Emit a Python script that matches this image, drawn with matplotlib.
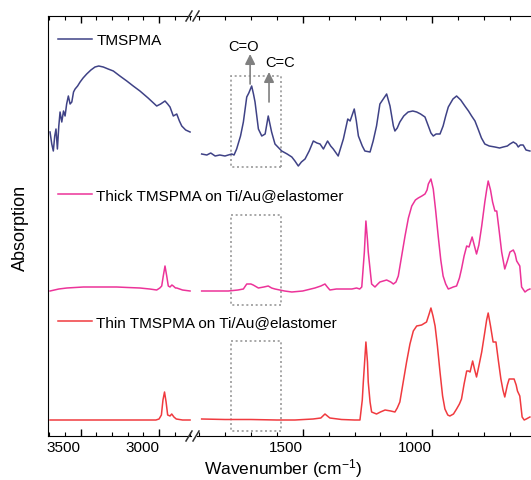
"""FTIR spectra of TMSPMA with a broken wavenumber axis."""

import matplotlib
matplotlib.use('Agg')
import matplotlib.pyplot as plt
from matplotlib.lines import Line2D
from matplotlib.patches import Rectangle
import numpy as np

plt.rcParams['font.family'] = ['Liberation Sans', 'DejaVu Sans']
plt.rcParams['mathtext.fontset'] = 'custom'
plt.rcParams['mathtext.rm'] = 'Liberation Sans'
plt.rcParams['mathtext.default'] = 'regular'

# --- data (wavenumber in cm-1, absorption in arbitrary units) -------------
tmspma_hi_wn = [3696, 3685, 3675, 3666, 3658, 3649, 3640, 3632, 3621, 3610,
                3600, 3590, 3579, 3568, 3557, 3546, 3536, 3520, 3504, 3485,
                3462, 3435, 3409, 3385, 3356, 3325, 3292, 3250, 3206, 3165,
                3122, 3070, 3015, 2990, 2962, 2945, 2930, 2909, 2887, 2870,
                2855, 2830, 2802]
tmspma_hi_ab = [24, 12, 5, 20, 27, 7, 30, 44, 34, 45,
                40, 52, 60, 52, 54, 64, 67, 70, 74, 78,
                82, 86, 89, 90, 89, 87, 85, 80, 75, 70,
                65, 58, 50, 52, 55, 52, 49, 40, 42, 35,
                30, 26, 24]
tmspma_lo_wn = [1890, 1870, 1855, 1838, 1820, 1800, 1774, 1765, 1755, 1740,
                1729, 1716, 1708, 1697, 1690, 1684, 1671, 1658, 1645, 1633,
                1620, 1607, 1581, 1560, 1542, 1530, 1517, 1505, 1491, 1475,
                1459, 1445, 1433, 1420, 1404, 1392, 1382, 1363, 1343, 1326,
                1317, 1301, 1293, 1285, 1270, 1260, 1240, 1228, 1215, 1202,
                1189, 1176, 1163, 1150, 1144, 1135, 1125, 1110, 1093, 1075,
                1060, 1045, 1028, 1015, 1005, 996, 985, 970, 958, 948,
                938, 920, 906, 890, 874, 860, 848, 835, 823, 810,
                797, 780, 758, 740, 726, 710, 700, 687, 675, 668,
                660, 649, 638, 623]
tmspma_lo_ab = [2, 1, 3, 0, 1, 0, 2, 1, 7, 20,
                34, 59, 63, 70, 62, 54, 27, 20, 22, 40,
                24, 12, 5, 2, -1, -5, -10, -6, -3, 5,
                15, 13, 12, 7, 15, 10, 7, 0, 17, 37,
                35, 47, 35, 20, 10, 5, 4, 15, 30, 52,
                57, 62, 50, 30, 25, 28, 34, 40, 44, 45,
                44, 42, 39, 30, 23, 20, 22, 22, 30, 40,
                49, 57, 60, 56, 50, 45, 40, 35, 27, 18,
                12, 10, 9, 8, 9, 10, 12, 14, 12, 9,
                11, 11, 6, 5]

thick_hi_wn = [3696, 3640, 3589, 3483, 3380, 3270, 3200, 3122, 3060, 3015,
               2995, 2983, 2973, 2962, 2951, 2941, 2930, 2918, 2909, 2895,
               2887, 2850, 2802]
thick_hi_ab = [-1, 1, 2, 3, 3, 3, 2.5, 2, 1, 0,
               2, 4, 14, 24, 14, 4, 3, 5, 4, 2,
               2, 0, -1]
thick_lo_wn = [1890, 1850, 1787, 1750, 1729, 1716, 1700, 1691, 1671, 1650,
               1633, 1620, 1607, 1570, 1542, 1500, 1453, 1430, 1414, 1405,
               1395, 1370, 1337, 1310, 1292, 1280, 1272, 1262, 1256, 1250,
               1247, 1234, 1221, 1210, 1202, 1176, 1160, 1150, 1140, 1131,
               1118, 1105, 1092, 1079, 1065, 1054, 1040, 1028, 1020, 1015,
               1005, 996, 987, 977, 967, 958, 948, 938, 928, 919,
               906, 895, 887, 877, 867, 858, 846, 838, 829, 820,
               809, 797, 790, 784, 775, 767, 758, 751, 742, 732,
               720, 710, 700, 687, 680, 674, 662, 655, 642, 632,
               623]
thick_lo_ab = [-1, -1, -1, 0, 1, 6, 6, 5, 2, 3,
               4, 2, 1, -1, -2, -1, 2, 4, 6, 3,
               0, 1, 1, 1, 2, 1, 3, 38, 69, 50,
               38, 6, 3, 6, 8, 10, 8, 6, 8, 14,
               34, 54, 72, 84, 90, 92, 94, 96, 100, 106,
               111, 101, 80, 54, 30, 14, 6, 1, 2, 3,
               4, 12, 21, 34, 44, 43, 53, 45, 36, 45,
               64, 88, 100, 109, 100, 88, 79, 79, 60, 38,
               21, 29, 38, 40, 36, 29, 24, 3, -2, 0,
               1]

thin_hi_wn = [3696, 3500, 3200, 3020, 3000, 2985, 2975, 2965, 2955, 2945,
              2930, 2919, 2905, 2890, 2850, 2802]
thin_hi_ab = [0, 0, 0, 0, 1, 5, 20, 28, 18, 5,
              4, 6, 3, 1, 0, 0]
thin_lo_wn = [1890, 1800, 1700, 1600, 1530, 1460, 1430, 1414, 1400, 1395,
              1350, 1300, 1279, 1270, 1266, 1256, 1250, 1247, 1240, 1234,
              1215, 1200, 1182, 1160, 1144, 1135, 1125, 1112, 1099, 1086,
              1073, 1060, 1041, 1022, 1012, 1005, 997, 989, 980, 970,
              960, 951, 940, 932, 918, 906, 895, 887, 877, 867,
              860, 854, 844, 836, 829, 820, 809, 797, 790, 784,
              775, 765, 754, 745, 735, 727, 720, 710, 703, 690,
              684, 676, 671, 662, 653, 645, 637, 623]
thin_lo_ab = [1, 0.5, 0.5, 0, 0, 1, 2, 6, 3, 2,
              0.5, 0, 0, 20, 38, 78, 58, 38, 18, 8,
              6, 8, 10, 9, 8, 12, 18, 38, 58, 76,
              89, 94, 95, 98, 106, 112, 104, 94, 74, 48,
              24, 11, 5, 4, 6, 11, 16, 21, 36, 49,
              49, 48, 59, 50, 43, 54, 68, 88, 100, 107,
              94, 78, 78, 60, 41, 30, 23, 35, 41, 41,
              41, 35, 29, 24, 3, 0, 1, 3]

labels = ['TMSPMA', 'Thick TMSPMA on Ti/Au@elastomer',
          'Thin TMSPMA on Ti/Au@elastomer']
colors = ['#3f4286', '#ec3399', '#f03a3f']
offsets = [280, 146, 16]

# dotted boxes marking the C=O / C=C region (wavenumber span, y span)
box_wn = (1775, 1585)
box_y = [(269, 360), (131, 221), (5, 95)]

# --- layout (pixels of the 531x481 figure) --------------------------------
W, H = 531, 481
fig = plt.figure(figsize=(W / 100, H / 100), dpi=100)


def _rect(x0, x1, y_top, y_bot):
    return [x0 / W, 1 - y_bot / H, (x1 - x0) / W, (y_bot - y_top) / H]


ax_l = fig.add_axes(_rect(48, 191, 17, 437))
ax_r = fig.add_axes(_rect(197, 540, 17, 437))

spectra = [
    (tmspma_hi_wn, tmspma_hi_ab, tmspma_lo_wn, tmspma_lo_ab),
    (thick_hi_wn, thick_hi_ab, thick_lo_wn, thick_lo_ab),
    (thin_hi_wn, thin_hi_ab, thin_lo_wn, thin_lo_ab),
]
handles = []
for (hw, ha, lw, la), col, off in zip(spectra, colors, offsets):
    ax_l.plot(hw, np.array(ha) + off, color=col, lw=1.1)
    h, = ax_r.plot(lw, np.array(la) + off, color=col, lw=1.1)
    handles.append(h)

for y0, y1 in box_y:
    ax_r.add_patch(Rectangle((box_wn[1], y0), box_wn[0] - box_wn[1], y1 - y0,
                             fill=False, ec='#9a9a9a', ls=(0, (1.2, 1.6)),
                             lw=1.2))

# peak annotations
arrow = dict(arrowstyle='-|>,head_length=0.6,head_width=0.3',
             color='#808080', lw=1.2, shrinkA=0, shrinkB=0)
ax_r.annotate('', xy=(1703, 382), xytext=(1703, 352), arrowprops=arrow)
ax_r.annotate('', xy=(1630, 364), xytext=(1630, 334), arrowprops=arrow)
ax_r.text(1730, 390, 'C=O', ha='center', va='center', fontsize=10.5)
ax_r.text(1588, 374, 'C=C', ha='center', va='center', fontsize=10.5)

# axes styling
ax_l.set_xlim(3709, 2796)
ax_r.set_xlim(1908, 584)
for ax in (ax_l, ax_r):
    ax.set_ylim(0, 420)
    ax.set_yticks([])
    ax.spines['right'].set_visible(False)
    ax.tick_params(axis='x', which='both', direction='in', top=True,
                   bottom=True, labelsize=11, pad=3)
    ax.tick_params(axis='x', which='major', length=5, width=1)
    ax.tick_params(axis='x', which='minor', length=3, width=0.8)
    ax.patch.set_alpha(0)
ax_r.spines['left'].set_visible(False)

ax_l.set_xticks([3500, 3000])
ax_l.set_xticks(np.arange(3700, 2799, -100), minor=True)
ax_r.set_xticks([1500, 1000])
ax_r.set_xticks(np.arange(1900, 599, -100), minor=True)
for ax in (ax_l, ax_r):
    for lab in ax.get_xticklabels():
        lab.set_horizontalalignment('right')

# break marks on top and bottom spines
for yy in (17, 437):
    for xx in (189, 196):
        fig.add_artist(Line2D([(xx - 3) / W, (xx + 3) / W],
                              [1 - (yy + 5) / H, 1 - (yy - 5) / H],
                              color='#333333', lw=1.1))

fig.text(20 / W, 1 - 228 / H, 'Absorption', rotation=90, ha='center',
         va='center', fontsize=13)
fig.text(283 / W, 1 - 469 / H, 'Wavenumber (cm$^{-1}$)', ha='center',
         va='center', fontsize=12.5)

# one legend entry above each spectrum
legend_pos = [(58, 34), (58, 189), (58, 316)]
for h, lab, (lx, ly) in zip(handles, labels, legend_pos):
    fig.legend(handles=[h], labels=[lab], loc='upper left',
               bbox_to_anchor=(lx / W, 1 - ly / H), frameon=False,
               fontsize=11, handlelength=2.2, handletextpad=0.3,
               borderpad=0, borderaxespad=0)

fig.savefig('out.png', dpi=100)
